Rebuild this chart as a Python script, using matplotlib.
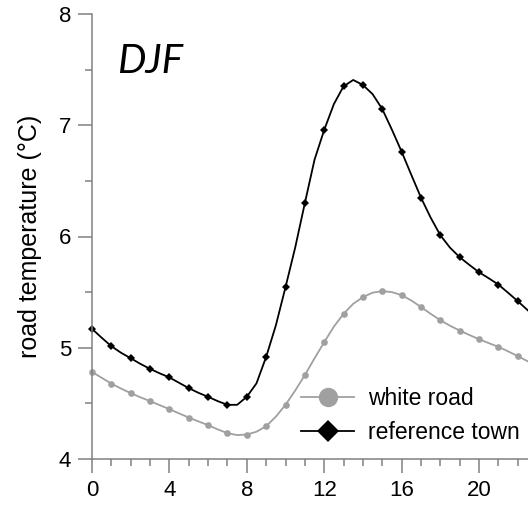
import numpy as np
import matplotlib
matplotlib.use("Agg")
import matplotlib.pyplot as plt
from matplotlib.ticker import MultipleLocator

# Hour of day (half-hourly samples)
hours = np.arange(0, 23.5, 0.5)

# Mean winter (DJF) road temperature, °C
white_road = [
    4.783, 4.730, 4.678, 4.633, 4.592, 4.555, 4.520, 4.484, 4.448, 4.410,
    4.373, 4.338, 4.304, 4.266, 4.232, 4.215, 4.220, 4.245, 4.295, 4.380,
    4.487, 4.615, 4.754, 4.905, 5.050, 5.190, 5.305, 5.395, 5.455, 5.495,
    5.509, 5.500, 5.473, 5.425, 5.367, 5.305, 5.248, 5.198, 5.155, 5.115,
    5.077, 5.042, 5.008, 4.968, 4.925, 4.880, 4.840,
]
reference_town = [
    5.170, 5.090, 5.014, 4.955, 4.906, 4.855, 4.810, 4.770, 4.733, 4.685,
    4.637, 4.595, 4.559, 4.520, 4.487, 4.487, 4.559, 4.680, 4.918, 5.200,
    5.544, 5.900, 6.300, 6.690, 6.958, 7.190, 7.350, 7.407, 7.362, 7.280,
    7.146, 6.960, 6.763, 6.555, 6.350, 6.170, 6.012, 5.900, 5.814, 5.745,
    5.679, 5.625, 5.568, 5.495, 5.419, 5.340, 5.260,
]

series_labels = ["white road", "reference town"]
season = "DJF"
y_label = "road temperature (°C)"

plt.rcParams["font.family"] = ["Liberation Sans", "DejaVu Sans"]

W, H = 528, 508
fig = plt.figure(figsize=(W / 100, H / 100), dpi=100)
px_per_hour = 19.35
x_max = 23.5
ax = fig.add_axes([92 / W, 49 / H, x_max * px_per_hour / W, 445 / H])
ax.set_xlim(0, x_max)
ax.set_ylim(4, 8)

gray = "#a0a0a0"
axis_gray = "#808080"

ax.plot(hours, white_road, color=gray, lw=1.3, marker="o", ms=4.8,
        markevery=2, markeredgewidth=0, label=series_labels[0], clip_on=False)
ax.plot(hours, reference_town, color="black", lw=1.3, marker="D", ms=3.8,
        markevery=2, markeredgewidth=0, label=series_labels[1], clip_on=False)

for side in ("top", "right"):
    ax.spines[side].set_visible(False)
for side in ("left", "bottom"):
    ax.spines[side].set_color(axis_gray)
    ax.spines[side].set_linewidth(1.1)

ax.xaxis.set_major_locator(MultipleLocator(4))
ax.xaxis.set_minor_locator(MultipleLocator(1))
ax.yaxis.set_major_locator(MultipleLocator(1))
ax.yaxis.set_minor_locator(MultipleLocator(0.5))
ax.tick_params(which="major", direction="out", length=10, width=1.1,
               color=axis_gray, labelsize=16, labelcolor="black")
ax.tick_params(which="minor", direction="out", length=5, width=1.1,
               color=axis_gray)
ax.tick_params(axis="x", which="major", pad=5)
ax.tick_params(axis="y", which="major", pad=5)

ax.set_ylabel(y_label, fontsize=18, labelpad=12)

ax.text(1.3, 7.47, season, fontsize=29, style="italic",
        family=["Lato", "DejaVu Sans"], ha="left", va="baseline")

leg = ax.legend(loc="lower left", bbox_to_anchor=(0.44, 0.012), frameon=False,
                fontsize=16.5, markerscale=2.9, handlelength=2.3,
                handletextpad=0.6, labelspacing=0.5, borderaxespad=0)

fig.savefig("out.png", dpi=100)
